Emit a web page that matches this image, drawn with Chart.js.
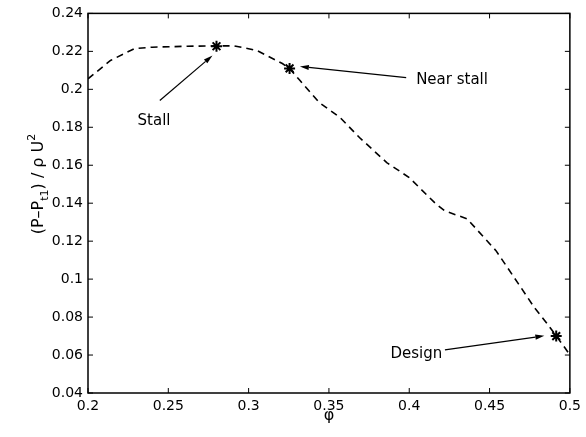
<!DOCTYPE html>
<html>
<head>
<meta charset="utf-8">
<script src="https://cdn.jsdelivr.net/npm/chart.js@4"></script>
<style>
  html, body { margin: 0; padding: 0; background: #fff; }
  #wrap { width: 586px; height: 437px; }
</style>
</head>
<body>
<div id="wrap"><canvas id="lossChart"></canvas></div>
<script>
// curve
const phi = [0.200, 0.214, 0.229, 0.240, 0.262, 0.280, 0.291, 0.305, 0.321, 0.3255, 0.332, 0.344, 0.357, 0.369, 0.386, 0.400, 0.4165, 0.422, 0.436, 0.454, 0.468, 0.478, 0.486, 0.497, 0.500];
const lossCoef = [0.2055, 0.2152, 0.2215, 0.2222, 0.2227, 0.2229, 0.2229, 0.2205, 0.2136, 0.2110, 0.2046, 0.1930, 0.1851, 0.1746, 0.1614, 0.1535, 0.1397, 0.1360, 0.1318, 0.1150, 0.0975, 0.0849, 0.0764, 0.0637, 0.0600];

// operating points marked with stars
const markNames = ['Stall', 'Near stall', 'Design'];
const markPhi = [0.280, 0.3255, 0.4915];
const markLoss = [0.2227, 0.2110, 0.0700];

// annotation text anchors and arrows (data units)
const labelPhi = [0.2411, 0.4043, 0.4205];
const labelLoss = [0.1835, 0.2046, 0.0606];
const arrowFromPhi = [0.2447, 0.3981, 0.4222];
const arrowFromLoss = [0.1941, 0.2062, 0.0627];
const arrowToPhi = [0.2775, 0.3319, 0.4841];
const arrowToLoss = [0.2178, 0.2120, 0.0701];

// tick values
const xTicks = [0.2, 0.25, 0.3, 0.35, 0.4, 0.45, 0.5];
const yTicks = [0.04, 0.06, 0.08, 0.1, 0.12, 0.14, 0.16, 0.18, 0.2, 0.22, 0.24];

const FONT = 'DejaVu Sans';

function fmt(v) {
    return String(+v.toFixed(3));
}

const matlabFrame = {
    id: 'matlabFrame',
    afterDraw(chart) {
        const ctx = chart.ctx;
        const a = chart.chartArea;
        const xs = chart.scales.x, ys = chart.scales.y;
        ctx.save();

        // box
        ctx.strokeStyle = '#000';
        ctx.lineWidth = 1.5;
        ctx.strokeRect(a.left, a.top, a.right - a.left, a.bottom - a.top);

        // inward ticks on all four sides
        ctx.lineWidth = 1;
        const tl = 5;
        ctx.beginPath();
        xTicks.forEach(v => {
            const px = xs.getPixelForValue(v);
            ctx.moveTo(px, a.bottom); ctx.lineTo(px, a.bottom - tl);
            ctx.moveTo(px, a.top); ctx.lineTo(px, a.top + tl);
        });
        yTicks.forEach(v => {
            const py = ys.getPixelForValue(v);
            ctx.moveTo(a.left, py); ctx.lineTo(a.left + tl, py);
            ctx.moveTo(a.right, py); ctx.lineTo(a.right - tl, py);
        });
        ctx.stroke();

        // annotations
        ctx.fillStyle = '#000';
        ctx.font = '15px "' + FONT + '"';
        ctx.textBaseline = 'middle';
        const aligns = ['center', 'left', 'right'];
        markNames.forEach((name, i) => {
            ctx.textAlign = aligns[i];
            ctx.fillText(name, xs.getPixelForValue(labelPhi[i]), ys.getPixelForValue(labelLoss[i]));

            const x0 = xs.getPixelForValue(arrowFromPhi[i]), y0 = ys.getPixelForValue(arrowFromLoss[i]);
            const x1 = xs.getPixelForValue(arrowToPhi[i]), y1 = ys.getPixelForValue(arrowToLoss[i]);
            const ang = Math.atan2(y1 - y0, x1 - x0);
            const hl = 9, hw = 2.6;
            ctx.lineWidth = 1.2;
            ctx.beginPath();
            ctx.moveTo(x0, y0);
            ctx.lineTo(x1 - hl * Math.cos(ang), y1 - hl * Math.sin(ang));
            ctx.stroke();
            ctx.beginPath();
            ctx.moveTo(x1, y1);
            ctx.lineTo(x1 - hl * Math.cos(ang) - hw * Math.sin(ang), y1 - hl * Math.sin(ang) + hw * Math.cos(ang));
            ctx.lineTo(x1 - hl * Math.cos(ang) + hw * Math.sin(ang), y1 - hl * Math.sin(ang) - hw * Math.cos(ang));
            ctx.closePath();
            ctx.fill();
        });

        // x axis label
        ctx.textAlign = 'center';
        ctx.textBaseline = 'alphabetic';
        ctx.font = '16px "' + FONT + '"';
        ctx.fillText('\u03c6', (a.left + a.right) / 2, 420);

        // y axis label with sub/superscript, rotated
        ctx.translate(43, 184);
        ctx.rotate(-Math.PI / 2);
        const big = '16px "' + FONT + '"', small = '11px "' + FONT + '"';
        const parts = [
            { t: '(P\u2013P', f: big, dy: 0 },
            { t: 't1', f: small, dy: 5 },
            { t: ') / \u03c1 U', f: big, dy: 0 },
            { t: '2', f: small, dy: -8 }
        ];
        let total = 0;
        parts.forEach(p => { ctx.font = p.f; p.w = ctx.measureText(p.t).width; total += p.w; });
        let cx = -total / 2;
        ctx.textAlign = 'left';
        parts.forEach(p => {
            ctx.font = p.f;
            ctx.fillText(p.t, cx, p.dy);
            cx += p.w;
        });
        ctx.restore();
    }
};

document.addEventListener('DOMContentLoaded', function() {
    const ctx = document.getElementById('lossChart').getContext('2d');
    new Chart(ctx, {
        type: 'scatter',
        data: {
            datasets: [{
                label: 'curve',
                data: phi.map((x, i) => ({ x: x, y: lossCoef[i] })),
                showLine: true,
                borderColor: '#000',
                borderWidth: 1.6,
                borderDash: [7, 5],
                pointRadius: 0,
                tension: 0
            }, {
                label: 'points',
                data: markPhi.map((x, i) => ({ x: x, y: markLoss[i] })),
                showLine: false,
                pointStyle: 'star',
                pointRadius: 5.5,
                borderColor: '#000',
                borderWidth: 2
            }]
        },
        options: {
            responsive: true,
            maintainAspectRatio: false,
            animation: false,
            layout: { padding: { left: 0, right: 13, top: 13, bottom: 0 } },
            plugins: {
                legend: { display: false },
                tooltip: { enabled: false }
            },
            scales: {
                x: {
                    type: 'linear',
                    min: 0.2,
                    max: 0.5,
                    afterBuildTicks: s => { s.ticks = xTicks.map(v => ({ value: v })); },
                    afterFit: s => { s.height = 44; },
                    grid: { display: false, drawTicks: false },
                    border: { display: false },
                    ticks: {
                        padding: 5,
                        color: '#000',
                        font: { family: FONT, size: 14 },
                        maxRotation: 0,
                        callback: v => fmt(v)
                    }
                },
                y: {
                    type: 'linear',
                    min: 0.04,
                    max: 0.24,
                    afterBuildTicks: s => { s.ticks = yTicks.map(v => ({ value: v })); },
                    afterFit: s => { s.width = 88; },
                    grid: { display: false, drawTicks: false },
                    border: { display: false },
                    ticks: {
                        padding: 5,
                        color: '#000',
                        font: { family: FONT, size: 14 },
                        callback: v => fmt(v)
                    }
                }
            }
        },
        plugins: [matlabFrame]
    });
});
</script>
</body>
</html>
